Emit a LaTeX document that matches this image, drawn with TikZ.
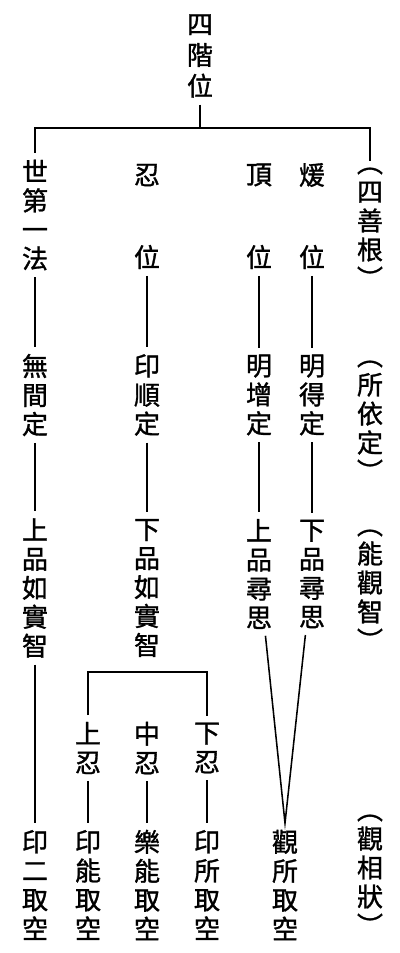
\documentclass[tikz,border=0pt]{standalone}
\usepackage{fontspec}
\newfontfamily\cjk[FakeBold=1.2]{Noto Sans CJK TC}
\begin{document}
\begin{tikzpicture}[x=0.025cm,y=-0.025cm,line width=1.1pt,
    col/.style={align=center,inner sep=0pt,outer sep=0.17cm,font=\cjk\fontsize{18.5}{20.6}\selectfont}]
        \useasboundingbox (0,0) rectangle (400,953);
        %% Top
        \node[col,font=\cjk\fontsize{18.5}{22}\selectfont] (siJie) at (200,56) {四\\階\\位};
        %% Four stages
        \node[col] (shiDi) at (35,215) {世\\第\\一\\法};
        \node[col] (ren) at (147,175) {忍};
        \node[col] (renWei) at (147,257) {位};
        \node[col] (ding) at (259,175) {頂};
        \node[col] (dingWei) at (259,257) {位};
        \node[col] (nuan) at (312,175) {煖};
        \node[col] (nuanWei) at (312,257) {位};
        \node[col] (shanGen) at (370,228) {︵\\四\\善\\根\\︶};
        %% samadhi
        \node[col] (wuJian) at (35,395) {無\\間\\定};
        \node[col] (yinShun) at (147,395) {印\\順\\定};
        \node[col] (mingZeng) at (259,395) {明\\增\\定};
        \node[col] (mingDe) at (312,395) {明\\得\\定};
        \node[col] (suoYi) at (370,421) {︵\\所\\依\\定\\︶};
        %% wisdom
        \node[col] (shangPin) at (35,588) {上\\品\\如\\實\\智};
        \node[col] (xiaPin) at (147,588) {下\\品\\如\\實\\智};
        \node[col] (shangXun) at (259,574) {上\\品\\尋\\思};
        \node[col] (xiaXun) at (312,574) {下\\品\\尋\\思};
        \node[col] (nengGuan) at (370,590) {︵\\能\\觀\\智\\︶};
        %% three ren
        \node[col] (shangRen) at (88,748) {上\\忍};
        \node[col] (zhongRen) at (147,748) {中\\忍};
        \node[col] (xiaRen) at (207,748) {下\\忍};
        %% bottom
        \node[col] (yinEr) at (35,885) {印\\二\\取\\空};
        \node[col] (yinNeng) at (88,885) {印\\能\\取\\空};
        \node[col] (leNeng) at (147,885) {樂\\能\\取\\空};
        \node[col] (yinSuo) at (207,885) {印\\所\\取\\空};
        \node[col] (guanSuo) at (285,885) {觀\\所\\取\\空};
        \node[col] (xiangZhuang) at (370,875) {︵\\觀\\相\\狀\\︶};
        %% Lines
        \coordinate (bar) at (200,128);
        \draw (siJie) -- (bar);
        \draw (shiDi) |- (bar) -| (shanGen);
        \draw (shiDi) -- (wuJian);
        \draw (wuJian) -- (shangPin);
        \draw (shangPin) -- (yinEr);
        \draw (renWei) -- (yinShun);
        \draw (yinShun) -- (xiaPin);
        \draw (dingWei) -- (mingZeng);
        \draw (mingZeng) -- (shangXun);
        \draw (nuanWei) -- (mingDe);
        \draw (mingDe) -- (xiaXun);
        \coordinate (renBar) at (147,672);
        \draw (shangRen) |- (renBar) -| (xiaRen);
        \draw (shangRen) -- (yinNeng);
        \draw (zhongRen) -- (leNeng);
        \draw (xiaRen) -- (yinSuo);
        \draw (shangXun) -- (guanSuo.north) -- (xiaXun);
    \end{tikzpicture}
\end{document}
